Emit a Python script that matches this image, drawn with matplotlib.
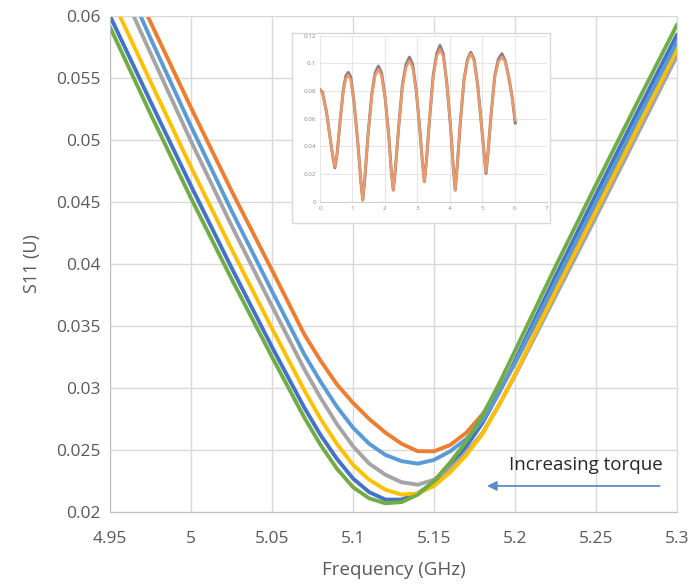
import numpy as np
import matplotlib.pyplot as plt
from matplotlib.patches import Rectangle

plt.rcParams['font.family'] = ['Open Sans', 'DejaVu Sans']

# S11 sweeps, one per torque step (GHz, linear units)
freq = [4.95, 4.975, 5.0, 5.025, 5.05, 5.07, 5.08, 5.09, 5.10, 5.11, 5.12, 5.13,
        5.14, 5.15, 5.16, 5.17, 5.18, 5.19, 5.20, 5.225, 5.25, 5.275, 5.30]

s11_blue = [0.0600, 0.0531, 0.0463, 0.0397, 0.0333, 0.0284, 0.0262, 0.0243, 0.0227, 0.0216, 0.0210, 0.0210,
            0.0215, 0.0224, 0.0237, 0.0253, 0.0272, 0.0296, 0.0322, 0.0390, 0.0456, 0.0521, 0.0585]
s11_orange = [0.0664, 0.0595, 0.0526, 0.0459, 0.0395, 0.0343, 0.0322, 0.0303, 0.0288, 0.0275, 0.0264, 0.0255,
              0.0249, 0.0249, 0.0254, 0.0264, 0.0279, 0.0298, 0.0320, 0.0383, 0.0446, 0.0508, 0.0570]
s11_gray = [0.0642, 0.0570, 0.0499, 0.0431, 0.0366, 0.0315, 0.0292, 0.0271, 0.0253, 0.0239, 0.0230, 0.0224,
            0.0222, 0.0226, 0.0235, 0.0248, 0.0264, 0.0286, 0.0310, 0.0374, 0.0438, 0.0503, 0.0568]
s11_yellow = [0.0617, 0.0547, 0.0478, 0.0412, 0.0348, 0.0298, 0.0275, 0.0255, 0.0238, 0.0226, 0.0218, 0.0214,
              0.0215, 0.0221, 0.0232, 0.0246, 0.0263, 0.0286, 0.0311, 0.0378, 0.0443, 0.0508, 0.0573]
s11_lblue = [0.0655, 0.0582, 0.0511, 0.0443, 0.0378, 0.0327, 0.0305, 0.0285, 0.0268, 0.0255, 0.0246, 0.0241,
             0.0239, 0.0242, 0.0249, 0.0259, 0.0274, 0.0296, 0.0320, 0.0385, 0.0450, 0.0515, 0.0579]
s11_green = [0.0591, 0.0521, 0.0453, 0.0388, 0.0325, 0.0276, 0.0254, 0.0235, 0.0220, 0.0211, 0.0207, 0.0208,
             0.0214, 0.0225, 0.0240, 0.0257, 0.0278, 0.0303, 0.0330, 0.0398, 0.0464, 0.0529, 0.0593]

series = [s11_blue, s11_orange, s11_gray, s11_yellow, s11_lblue, s11_green]
colors = ['#4472C4', '#ED7D31', '#A5A5A5', '#FFC000', '#5B9BD5', '#70AD47']

# small overview trace
inset_x = [0.00, 0.08, 0.20, 0.32, 0.40, 0.46, 0.53, 0.62, 0.72, 0.80, 0.875,
           0.95, 1.05, 1.17, 1.26, 1.32, 1.38, 1.48, 1.60, 1.70, 1.80,
           1.90, 2.01, 2.12, 2.20, 2.26, 2.32, 2.42, 2.54, 2.65, 2.76,
           2.86, 2.97, 3.08, 3.16, 3.22, 3.28, 3.38, 3.49, 3.60, 3.70,
           3.80, 3.91, 4.02, 4.11, 4.17, 4.23, 4.33, 4.44, 4.55, 4.65,
           4.75, 4.86, 4.97, 5.06, 5.12, 5.18, 5.28, 5.39, 5.50, 5.61,
           5.71, 5.82, 5.93, 6.02]
inset_y = [0.0806, 0.078, 0.065, 0.045, 0.032, 0.0255, 0.035, 0.058, 0.080, 0.089, 0.0915,
           0.088, 0.072, 0.042, 0.015, 0.0012, 0.016, 0.048, 0.077, 0.091, 0.0956,
           0.091, 0.075, 0.048, 0.022, 0.0084, 0.022, 0.052, 0.083, 0.097, 0.1018,
           0.097, 0.080, 0.052, 0.028, 0.0145, 0.029, 0.060, 0.090, 0.105, 0.110,
           0.105, 0.086, 0.056, 0.025, 0.0084, 0.025, 0.058, 0.088, 0.102, 0.107,
           0.102, 0.085, 0.058, 0.035, 0.0217, 0.035, 0.064, 0.090, 0.101, 0.1047,
           0.101, 0.090, 0.075, 0.059]
inset_y_dark = [0.0810, 0.079, 0.065, 0.045, 0.032, 0.0245, 0.035, 0.058, 0.081, 0.091, 0.0935,
                0.090, 0.072, 0.042, 0.015, 0.0012, 0.016, 0.048, 0.078, 0.093, 0.0980,
                0.093, 0.075, 0.048, 0.022, 0.0084, 0.022, 0.052, 0.084, 0.099, 0.1045,
                0.099, 0.080, 0.052, 0.028, 0.0145, 0.029, 0.060, 0.091, 0.107, 0.1130,
                0.107, 0.086, 0.056, 0.025, 0.0084, 0.025, 0.058, 0.088, 0.103, 0.1080,
                0.103, 0.085, 0.058, 0.035, 0.0205, 0.035, 0.064, 0.091, 0.103, 0.1070,
                0.102, 0.090, 0.075, 0.057]

grid_c = '#d9d9d9'
text_c = '#595959'

fig = plt.figure(figsize=(6.89, 5.84), dpi=100)
ax = fig.add_axes([0.1597, 0.1233, 0.8229, 0.8493])

for vals, c in zip(series, colors):
    ax.plot(freq, vals, color=c, lw=2.8, solid_capstyle='round', solid_joinstyle='round')

ax.set_xlim(4.95, 5.3)
ax.set_ylim(0.02, 0.06)
ax.set_xticks([4.95, 5.0, 5.05, 5.1, 5.15, 5.2, 5.25, 5.3])
ax.set_xticklabels(['4.95', '5', '5.05', '5.1', '5.15', '5.2', '5.25', '5.3'])
ax.set_yticks([0.02, 0.025, 0.03, 0.035, 0.04, 0.045, 0.05, 0.055, 0.06])
ax.set_yticklabels(['0.02', '0.025', '0.03', '0.035', '0.04', '0.045', '0.05', '0.055', '0.06'])
ax.grid(True, color=grid_c, lw=1.0)
ax.set_axisbelow(True)
for s in ax.spines.values():
    s.set_color(grid_c)
ax.spines['left'].set_color('#bfbfbf')
ax.spines['bottom'].set_color('#bfbfbf')
ax.tick_params(length=0, colors=text_c, labelsize=12.5)
ax.tick_params(axis='x', pad=14)
ax.tick_params(axis='y', pad=7)
ax.set_xlabel('Frequency (GHz)', color=text_c, fontsize=13.5, labelpad=10)
ax.set_ylabel('S11 (U)', color=text_c, fontsize=13, labelpad=11)

# torque annotation
ax.annotate('', xy=(5.181, 0.0221), xytext=(5.291, 0.0221),
            arrowprops=dict(arrowstyle='-|>', color='#5B8EC4', lw=1.3, mutation_scale=14))
ax.text(5.196, 0.0238, 'Increasing torque', fontsize=13.5, color='#262626', va='center', ha='left')

# inset overview
fig.patches.append(Rectangle((0.4238, 0.6182), 0.3745, 0.3253, transform=fig.transFigure,
                             facecolor='white', edgecolor=grid_c, lw=1.0, zorder=3))
ins = fig.add_axes([0.4644, 0.6546, 0.3295, 0.2842], zorder=4)
ins.plot(inset_x, inset_y_dark, color='#6d5f6f', lw=2.2, alpha=0.8)
ins.plot(inset_x, inset_y, color='#EE9A66', lw=1.8)
ins.set_xlim(0, 7)
ins.set_ylim(0, 0.12)
ins.set_xticks(range(8))
ins.set_yticks([0, 0.02, 0.04, 0.06, 0.08, 0.1, 0.12])
ins.set_yticklabels(['0', '0.02', '0.04', '0.06', '0.08', '0.1', '0.12'])
ins.grid(True, color='#e6e6e6', lw=0.8)
ins.set_axisbelow(True)
for s in ins.spines.values():
    s.set_visible(False)
ins.spines['bottom'].set_visible(True)
ins.spines['bottom'].set_color('#d0d0d0')
ins.tick_params(length=0, colors='#8c8c8c', labelsize=4.5, pad=3)

fig.savefig('out.png', dpi=100)
